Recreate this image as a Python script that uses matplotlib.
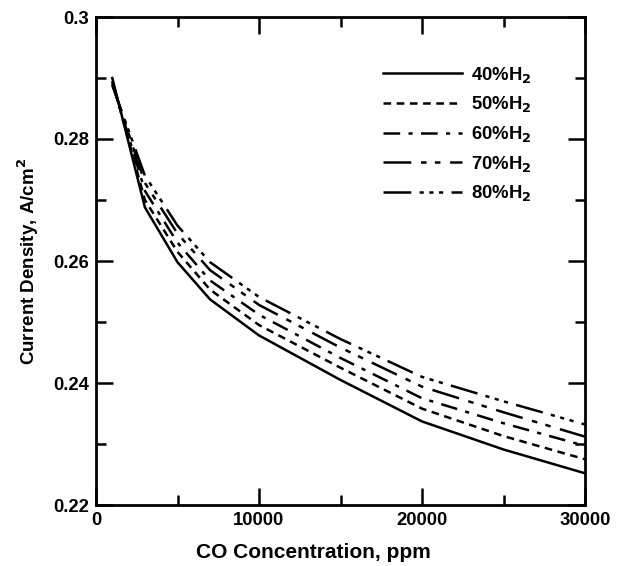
import matplotlib
matplotlib.use('Agg')
import matplotlib.pyplot as plt
from matplotlib.ticker import MultipleLocator

plt.rcParams['font.family'] = ['Liberation Sans', 'DejaVu Sans']
plt.rcParams['font.weight'] = 'bold'
plt.rcParams['lines.scale_dashes'] = False

# CO concentration (ppm) and current density (A/cm2) for each H2 fraction
co_ppm = [1000, 3000, 5000, 7000, 10000, 15000, 20000, 25000, 30000]
h2_labels = ['40%H$_2$', '50%H$_2$', '60%H$_2$', '70%H$_2$', '80%H$_2$']
cd_40 = [0.2900, 0.2688, 0.2598, 0.2537, 0.2478, 0.2405, 0.2337, 0.2291, 0.2252]
cd_50 = [0.2895, 0.2700, 0.2615, 0.2553, 0.2495, 0.2425, 0.2358, 0.2313, 0.2275]
cd_60 = [0.2893, 0.2715, 0.2630, 0.2568, 0.2512, 0.2441, 0.2375, 0.2334, 0.2297]
cd_70 = [0.2890, 0.2728, 0.2645, 0.2585, 0.2528, 0.2458, 0.2394, 0.2352, 0.2312]
cd_80 = [0.2888, 0.2740, 0.2658, 0.2598, 0.2541, 0.2472, 0.2410, 0.2370, 0.2332]

series = [cd_40, cd_50, cd_60, cd_70, cd_80]
styles = ['-',
          (0, (5.5, 4)),
          (0, (12, 6, 3, 6)),
          (0, (20, 7, 4, 6, 4, 7)),
          (0, (20, 6, 3, 4, 3, 4, 3, 6))]

fig = plt.figure(figsize=(6.21, 5.66), dpi=100)
ax = fig.add_axes([96 / 621, 1 - 505 / 566, 489 / 621, 488 / 566])

for cd, lab, ls in zip(series, h2_labels, styles):
    ax.plot(co_ppm, cd, color='black', lw=1.8, linestyle=ls, label=lab)

ax.set_xlim(0, 30000)
ax.set_ylim(0.22, 0.30)
ax.xaxis.set_major_locator(MultipleLocator(10000))
ax.xaxis.set_minor_locator(MultipleLocator(5000))
ax.yaxis.set_minor_locator(MultipleLocator(0.01))
ax.set_yticks([0.22, 0.24, 0.26, 0.28, 0.30])
ax.set_yticklabels(['0.22', '0.24', '0.26', '0.28', '0.3'])

ax.tick_params(which='both', direction='in', top=True, right=True, width=1.8,
               labelsize=13.3, pad=5)
ax.tick_params(which='major', length=12)
ax.tick_params(which='minor', length=7)
for s in ax.spines.values():
    s.set_linewidth(2)

ax.set_xlabel('CO Concentration, ppm', fontsize=15, fontweight='bold')
ax.xaxis.set_label_coords((313 - 96) / 489, -0.078)
ax.set_ylabel('Current Density, A/cm$^2$', fontsize=13.5, fontweight='bold', labelpad=9)

ax.legend(loc='upper left', bbox_to_anchor=(0.587, 0.902), frameon=False,
          borderaxespad=0, borderpad=0,
          fontsize=13.3, handlelength=4.3, labelspacing=0.52, handletextpad=0.45)

fig.savefig('out.png', dpi=100)
